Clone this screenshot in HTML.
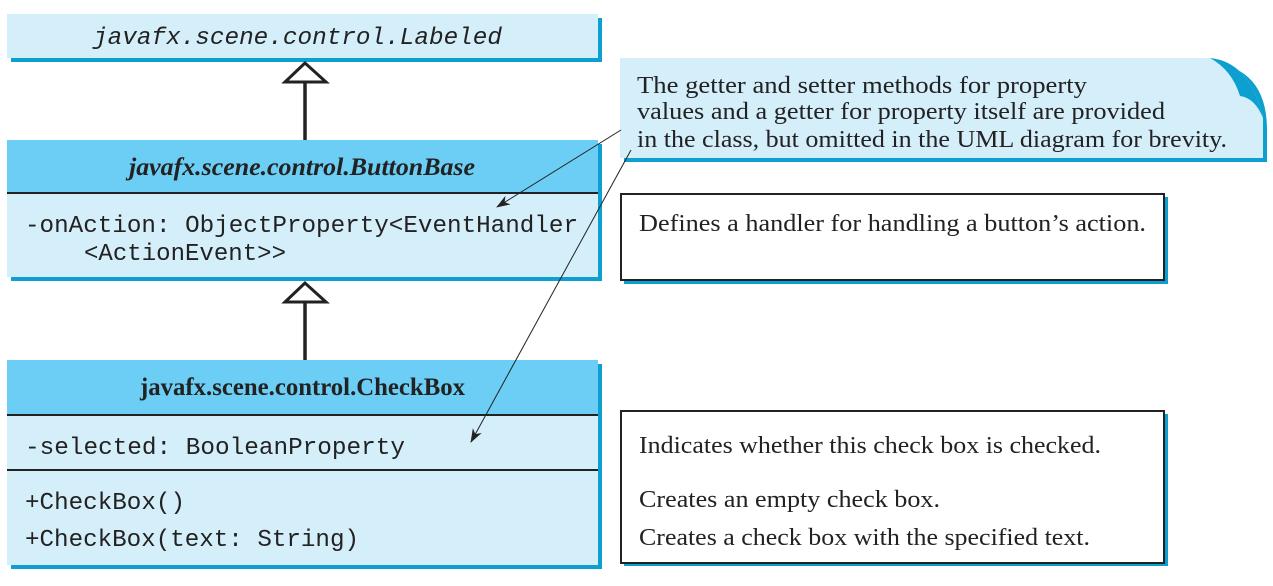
<!DOCTYPE html>
<html><head><meta charset="utf-8"><style>html,body{margin:0;padding:0;background:#fff}</style></head>
<body>
<svg width="1273" height="581" viewBox="0 0 1273 581" xmlns="http://www.w3.org/2000/svg">
<defs><marker id="ah" markerWidth="14" markerHeight="10" refX="13" refY="5" orient="auto" markerUnits="userSpaceOnUse"><path d="M0,0 L14,5 L0,10 L4,5 z" fill="#222"/></marker></defs>
<g font-family="Liberation Mono, monospace" font-size="24" fill="#222">
<rect x="11" y="18" width="591" height="44" fill="#0d9fd0"/>
<rect x="7" y="14" width="591" height="44" fill="#d4eefa"/>
<text x="93" y="44" font-style="italic" textLength="409" lengthAdjust="spacingAndGlyphs">javafx.scene.control.Labeled</text>
<line x1="305" y1="82" x2="305" y2="140" stroke="#222" stroke-width="3.5"/>
<polygon points="305,63 285,82 326,82" fill="#fff" stroke="#222" stroke-width="3"/>
<rect x="11" y="144" width="591" height="137" fill="#0d9fd0"/>
<rect x="7" y="140" width="591" height="137" fill="#d4eefa"/>
<rect x="7" y="140" width="591" height="53" fill="#6ccef5"/>
<line x1="7" y1="193" x2="598" y2="193" stroke="#222" stroke-width="2"/>
<text x="129" y="175" font-family="Liberation Serif, serif" font-style="italic" font-weight="bold" font-size="25" textLength="346" lengthAdjust="spacingAndGlyphs">javafx.scene.control.ButtonBase</text>
<text x="25" y="232" textLength="553" lengthAdjust="spacingAndGlyphs">-onAction: ObjectProperty&lt;EventHandler</text>
<text x="84" y="260" textLength="202" lengthAdjust="spacingAndGlyphs">&lt;ActionEvent&gt;&gt;</text>
<line x1="305" y1="302" x2="305" y2="360" stroke="#222" stroke-width="3.5"/>
<polygon points="305,283 285,302 326,302" fill="#fff" stroke="#222" stroke-width="3"/>
<rect x="11" y="364" width="591" height="205" fill="#0d9fd0"/>
<rect x="7" y="360" width="591" height="205" fill="#d4eefa"/>
<rect x="7" y="360" width="591" height="55" fill="#6ccef5"/>
<line x1="7" y1="415" x2="598" y2="415" stroke="#222" stroke-width="2"/>
<line x1="7" y1="470" x2="598" y2="470" stroke="#222" stroke-width="2"/>
<text x="140" y="395" font-family="Liberation Serif, serif" font-weight="bold" font-size="25" textLength="325" lengthAdjust="spacingAndGlyphs">javafx.scene.control.CheckBox</text>
<text x="25" y="454" textLength="380" lengthAdjust="spacingAndGlyphs">-selected: BooleanProperty</text>
<text x="25" y="509" textLength="160" lengthAdjust="spacingAndGlyphs">+CheckBox()</text>
<text x="25" y="546" textLength="334" lengthAdjust="spacingAndGlyphs">+CheckBox(text: String)</text>
</g>
<path d="M624,62 H1210 Q1267,68 1267,130 V162 H624 Z" fill="#0d9fd0"/>
<path d="M620,58 H1210 Q1250,62 1263,118 V158 H620 Z" fill="#d4eefa"/>
<path d="M1210,58 Q1250,62 1263,118 Q1255,98 1240,96 Q1232,70 1210,58 Z" fill="#0d9fd0"/>
<g font-family="Liberation Serif, serif" font-size="24" fill="#222">
<text x="637" y="93" textLength="450" lengthAdjust="spacingAndGlyphs">The getter and setter methods for property</text>
<text x="637" y="119" textLength="528" lengthAdjust="spacingAndGlyphs">values and a getter for property itself are provided</text>
<text x="637" y="147" textLength="590" lengthAdjust="spacingAndGlyphs">in the class, but omitted in the UML diagram for brevity.</text>
<rect x="624" y="197" width="544" height="87" fill="#0d9fd0"/>
<rect x="621" y="194" width="543" height="86" fill="#fff" stroke="#222" stroke-width="2"/>
<text x="639" y="231" textLength="507" lengthAdjust="spacingAndGlyphs">Defines a handler for handling a button’s action.</text>
<rect x="624" y="414" width="544" height="152" fill="#0d9fd0"/>
<rect x="621" y="411" width="543" height="152" fill="#fff" stroke="#222" stroke-width="2"/>
<text x="639" y="453" textLength="462" lengthAdjust="spacingAndGlyphs">Indicates whether this check box is checked.</text>
<text x="639" y="507" textLength="301" lengthAdjust="spacingAndGlyphs">Creates an empty check box.</text>
<text x="639" y="545" textLength="451" lengthAdjust="spacingAndGlyphs">Creates a check box with the specified text.</text>
</g>
<line x1="621" y1="130" x2="497" y2="207" stroke="#222" stroke-width="1" marker-end="url(#ah)"/>
<line x1="631" y1="150" x2="471" y2="442" stroke="#222" stroke-width="1" marker-end="url(#ah)"/>
</svg>
</body></html>
